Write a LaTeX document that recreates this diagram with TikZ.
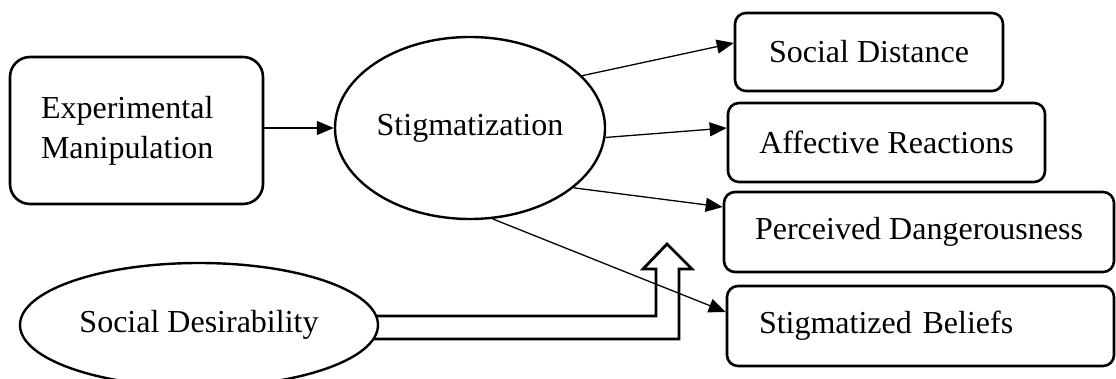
\documentclass[tikz,border=0pt]{standalone}
\usepackage{fontspec}
\setmainfont{Liberation Serif}
\usetikzlibrary{shapes.geometric,arrows.meta,calc}
\tikzset{
  txt/.style={font=\fontsize{32}{40}\selectfont},
  rbox/.style={txt, draw, line width=2.6pt, rounded corners=11pt, inner sep=0pt, minimum height=79pt},
  oval/.style={txt, draw, ellipse, line width=2.4pt, inner sep=0pt},
  conn/.style={line width=1.3pt, -{Triangle[length=17pt,width=14pt]}},
  fatarrow/.style={line width=2.8pt, line join=miter},
}
\begin{document}
\begin{tikzpicture}[x=1pt,y=-1pt]
\useasboundingbox (0,0) rectangle (1116,379);
\node[rbox, rounded corners=20pt, align=left, text width=191pt, inner xsep=31pt, minimum height=147pt] (em) at (136.5,130.5) {Experimental\\Manipulation};
\node[oval, minimum width=270pt, minimum height=182pt] (stig) at (470,128) {Stigmatization};
\node[rbox, minimum width=268pt, minimum height=78pt] (sd) at (869,52) {Social Distance};
\node[rbox, minimum width=317pt] (ar) at (886.5,142.5) {Affective Reactions};
\node[rbox, minimum width=390pt, minimum height=80pt] (pd) at (919,232) {Perceived Dangerousness};
\node[rbox, align=left, text width=323pt, inner xsep=32pt, minimum height=80pt] (sb) at (920.5,326) {Stigmatized Beliefs};
\node[oval, minimum width=358pt, minimum height=124pt] (desir) at (199,325) {Social Desirability};
\draw[conn] (stig.west -| em.east) -- (stig.west);
\draw[conn] (stig.25) -- ($(sd.west)+(0,-9)$);
\draw[conn] (stig.-4) -- ($(ar.west)+(0,-14.5)$);
\draw[conn] (stig.-30) -- ($(pd.west)+(0,-25)$);
\draw[conn] (stig.-76) -- ($(sb.west)+(0,-14)$);
\draw[fatarrow] (376,316) -- (656,316) -- (656,269) -- (643,269) -- (667,244) -- (692,269) -- (679,269) -- (679,339) -- (373,339);
\end{tikzpicture}
\end{document}
